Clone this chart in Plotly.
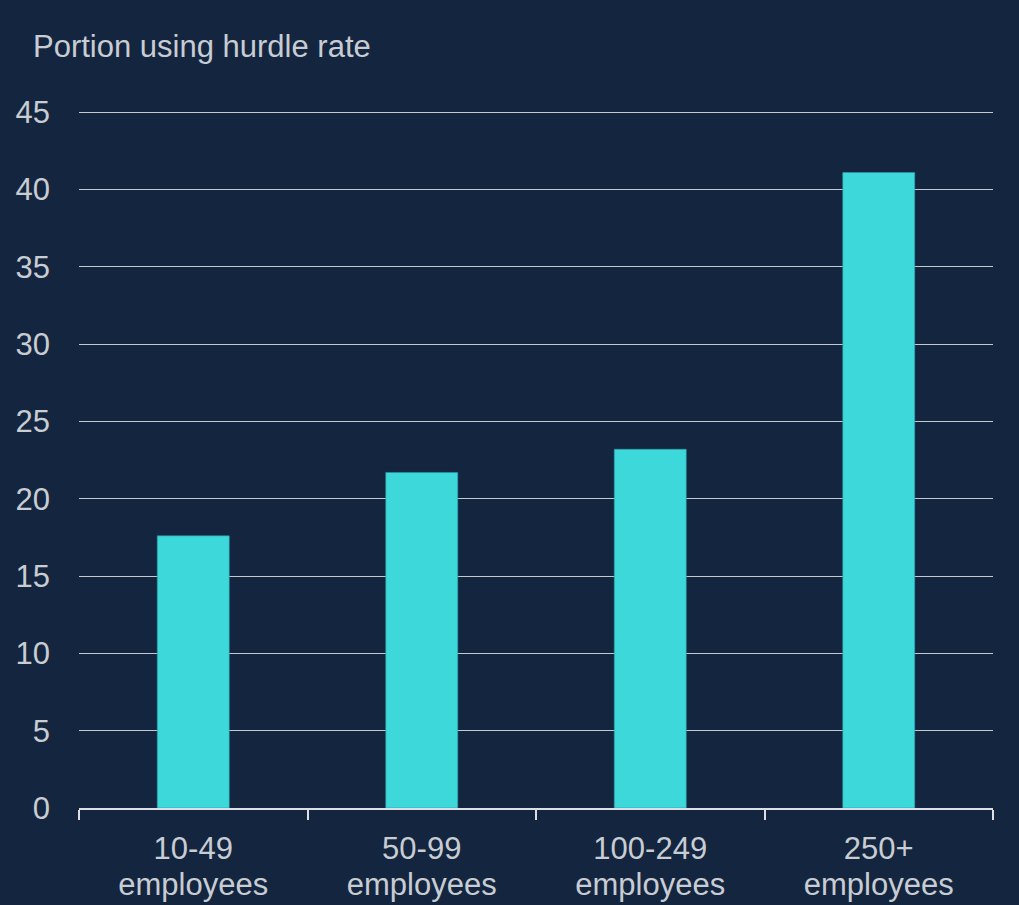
import plotly.graph_objects as go

categories = ["10-49", "50-99", "100-249", "250+"]
category_sublabels = ["employees", "employees", "employees", "employees"]
values = [17.6, 21.7, 23.2, 41.1]
y_ticks = [0, 5, 10, 15, 20, 25, 30, 35, 40, 45]
y_title = "Portion using hurdle rate"

BG = "#14263f"
BAR = "#3dd8da"
TEXT = "#c8ccd3"
GRID = "#c4c8cf"
AXIS = "#dcdfe3"
FONT = "Liberation Sans, Arial, sans-serif"

fig = go.Figure()
fig.add_trace(go.Bar(
    x=categories, y=values,
    marker=dict(color=BAR, line=dict(color="#2a9aa6", width=0.6)),
    width=0.315, hoverinfo="skip",
))
# helper (empty) trace so the second-line axis is drawn
fig.add_trace(go.Scatter(x=[], y=[], xaxis="x2", yaxis="y", showlegend=False))

fig.update_layout(
    width=1019, height=905,
    paper_bgcolor=BG, plot_bgcolor=BG,
    margin=dict(l=79, r=26, t=106, b=97, autoexpand=False),
    showlegend=False,
    font=dict(family=FONT, size=31, color=TEXT),
    annotations=[dict(
        text=y_title, xref="paper", yref="paper", x=(34 - 79) / 914, y=1,
        xanchor="left", yanchor="bottom", yshift=40, xshift=-3, showarrow=False,
        font=dict(family=FONT, size=31, color=TEXT),
    )],
    xaxis=dict(
        showgrid=False, showline=True, linecolor=AXIS, linewidth=2,
        ticks="outside", tickson="boundaries", ticklen=10, tickwidth=2, tickcolor=AXIS,
        tickfont=dict(family=FONT, size=31, color=TEXT), ticklabelstandoff=12,
        range=[-0.5, 3.5], automargin=False,
    ),
    xaxis2=dict(
        overlaying="x", anchor="y", side="bottom", range=[-0.5, 3.5],
        tickvals=list(range(len(categories))), ticktext=category_sublabels,
        showgrid=False, showline=False, zeroline=False, ticks="",
        tickfont=dict(family=FONT, size=31, color=TEXT), ticklabelstandoff=55,
        automargin=False,
    ),
    yaxis=dict(
        range=[0, 45.4], tickvals=y_ticks, showgrid=True, gridcolor=GRID, gridwidth=1,
        zeroline=False, showline=False, ticks="", ticklabelstandoff=28,
        tickfont=dict(family=FONT, size=31, color=TEXT), automargin=False,
    ),
)

fig.write_html(
    "out.html",
    config={"displayModeBar": False},
    post_script="document.body.style.margin='0';document.body.style.padding='0';",
)
